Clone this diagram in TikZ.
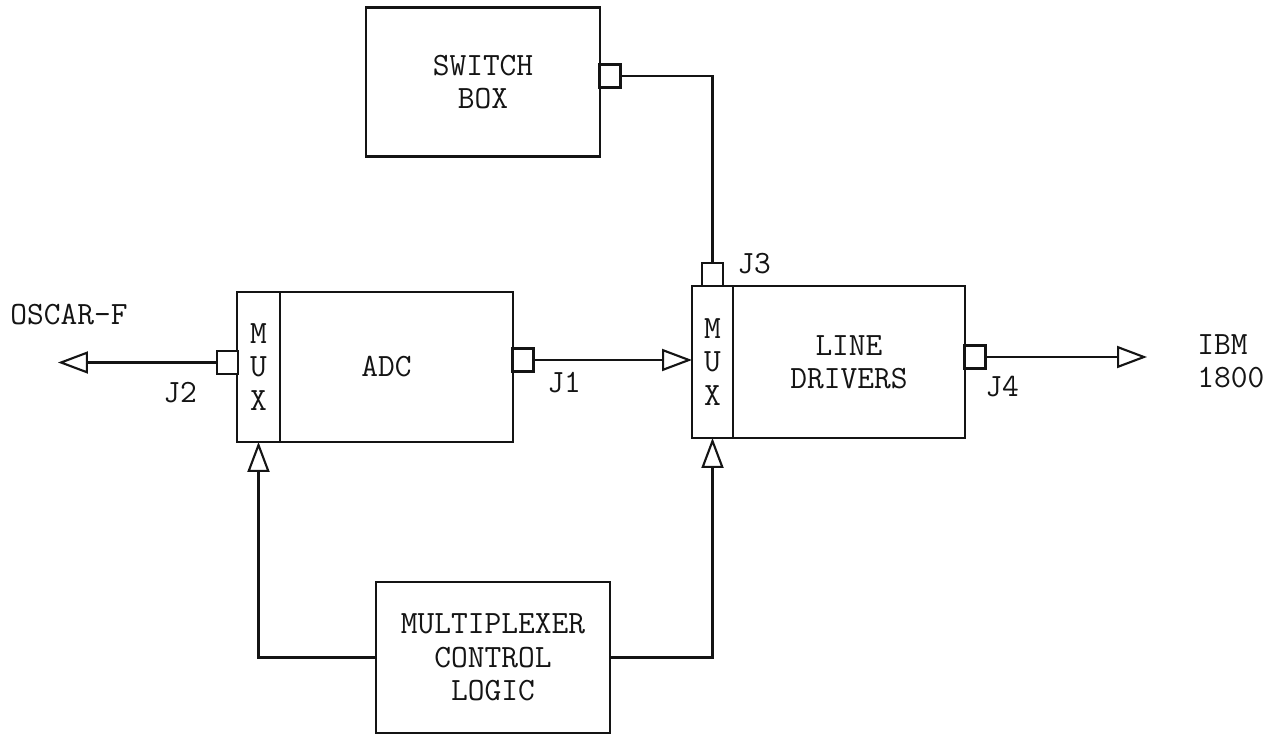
\documentclass[tikz,border=0pt]{standalone}
\usepackage{xcolor}
\usepackage{tikz}
\usetikzlibrary{arrows.meta, positioning, calc}
\definecolor{myink}{RGB}{20,20,20}
\tikzset{
  unitbox/.style={rectangle, draw=myink, fill=white, line width=1.4pt,
    align=center, minimum width=4.66cm, minimum height=3.0cm,
    inner sep=0pt, outer sep=0pt, text=myink,
    font=\fontsize{18.5}{19}\selectfont\ttfamily},
  muxbox/.style={rectangle, draw=myink, fill=white, line width=1.4pt,
    align=center, minimum width=0.86cm, minimum height=3.0cm,
    inner sep=0pt, outer sep=0pt, text=myink,
    font=\fontsize{18.5}{19}\selectfont\ttfamily},
  jack/.style={rectangle, draw=myink, fill=white, line width=1.2pt,
    minimum width=0.42cm, minimum height=0.46cm, inner sep=0pt, outer sep=0pt},
  lbl/.style={font=\fontsize{18.5}{19}\selectfont\ttfamily, text=myink,
    inner sep=0pt, anchor=west},
  sig/.style={-{Triangle[open, length=0.6cm, width=0.44cm]}, line width=1.2pt, color=myink},
  wire/.style={line width=1.2pt, color=myink}
}
\begin{document}
\begin{tikzpicture}[x=0.02cm, y=-0.02cm]
  \useasboundingbox (0,0) rectangle (1281,736);
  % blocks
  \node[unitbox, minimum width=4.68cm, minimum height=2.98cm] (sw) at (483,82) {SWITCH\\BOX};
  \node[muxbox] (lmux) at (258.5,367) {M\\U\\X};
  \node[unitbox, right=0pt of lmux] (adc) {ADC\hspace*{0.4cm}};
  \node[muxbox, minimum width=0.82cm, minimum height=3.04cm] (rmux) at (712.5,362) {M\\U\\X};
  \node[unitbox, minimum width=4.64cm, minimum height=3.04cm, right=0pt of rmux] (ld) {LINE\\DRIVERS};
  \node[unitbox, minimum width=4.68cm, minimum height=3.02cm] (mcl) at (493,657.5) {MULTIPLEXER\\CONTROL\\LOGIC};
  % jacks
  \node[jack] (j2)  at (227.5,362.5) {};
  \node[jack] (j1)  at (523,360) {};
  \node[jack, above=0pt of rmux] (j3) {};
  \node[jack] (j4)  at (975,357) {};
  \node[jack] (swj) at (610,76) {};
  % labels
  \node[lbl] (oscarlbl) at (10,315) {OSCAR-F};
  \node[lbl] (j2lbl) at (163,393) {J2};
  \node[lbl] (j1lbl) at (547,383) {J1};
  \node[lbl] (j3lbl) at (737,264) {J3};
  \node[lbl] (j4lbl) at (985,387) {J4};
  \node[lbl] (ibmlbl) at (1197,345) {IBM};
  \node[lbl] (ibmnum) at (1197,378) {1800};
  \coordinate (oscar) at (58,362.5);
  \coordinate (ibm) at (1147,357);
  % connectors
  \draw[sig]  (j2.west) -- (oscar);
  \draw[sig]  (j1.east) -- (j1.east -| rmux.west);
  \draw[sig]  (j4.east) -- (ibm);
  \draw[wire] (swj.east) -| (j3.north);
  \draw[sig]  (mcl.west) -| (lmux.south);
  \draw[sig]  (mcl.east) -| (rmux.south);
\end{tikzpicture}
\end{document}
